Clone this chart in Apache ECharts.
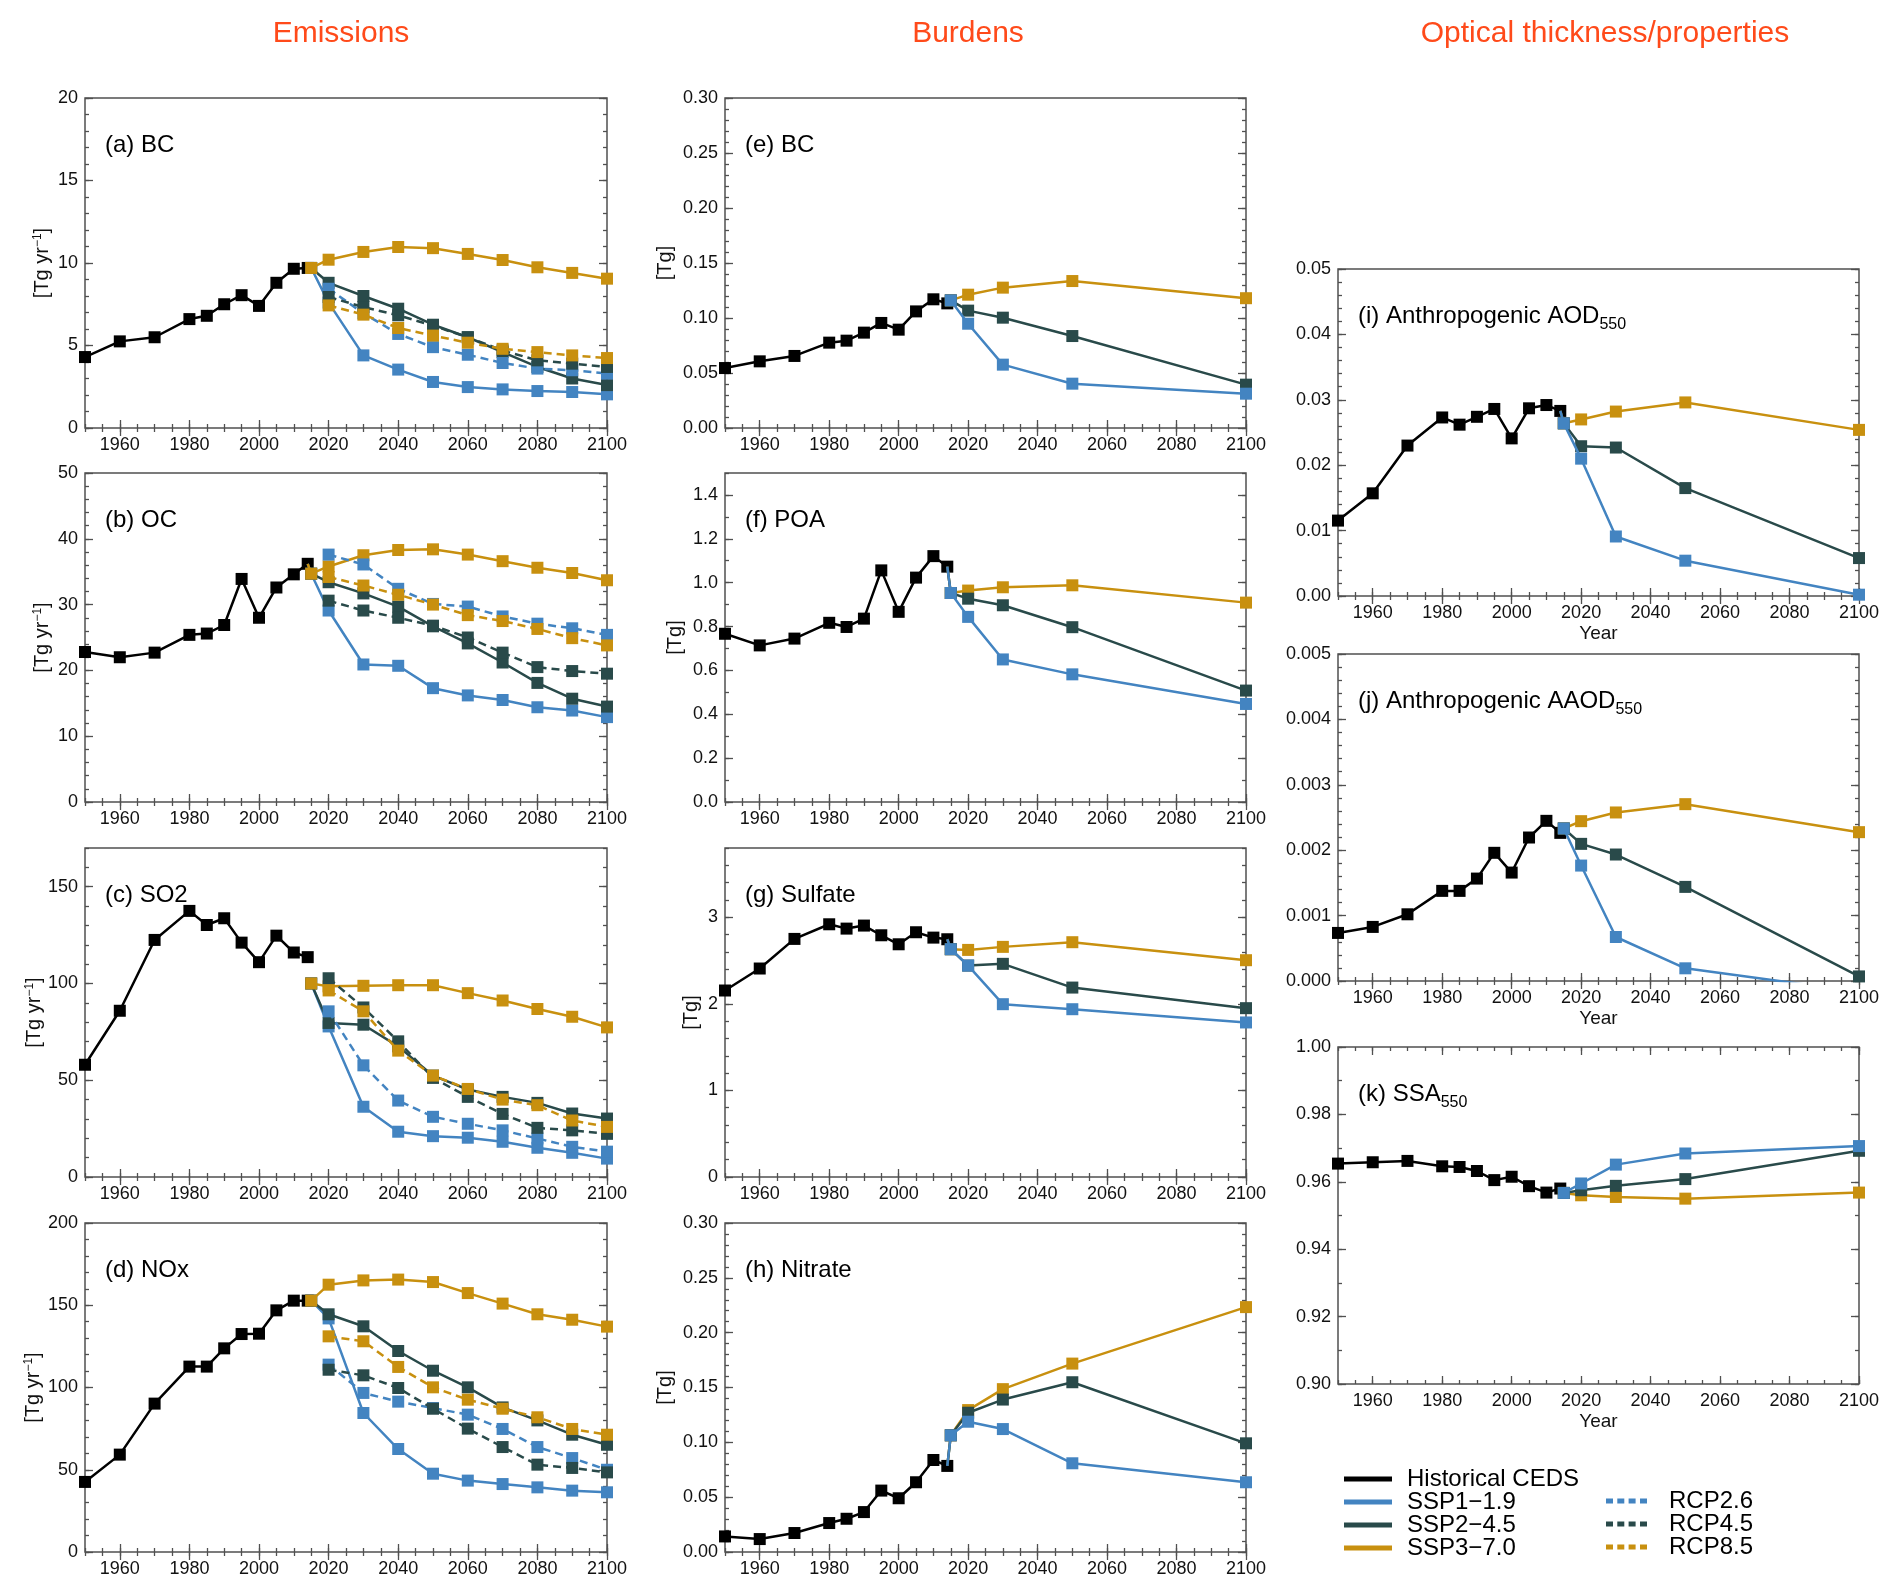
<!DOCTYPE html>
<html><head><meta charset="utf-8">
<script src="https://cdn.jsdelivr.net/npm/echarts@6/dist/echarts.min.js"></script>
<style>html,body{margin:0;padding:0;background:#fff}#c{width:1897px;height:1596px}</style>
</head><body><div id="c"></div>
<script>
// ---------------- data ----------------
const histYears = [1950,1960,1970,1980,1985,1990,1995,2000,2005,2010,2014];
const emisYears = [2015,2020,2030,2040,2050,2060,2070,2080,2090,2100];
const rcpYears  = [2020,2030,2040,2050,2060,2070,2080,2090,2100];
const burdYears = [2015,2020,2030,2050,2100];
const xTickLabels = [1960,1980,2000,2020,2040,2060,2080,2100];

// (a) BC emissions
const bcHist  = [4.3,5.25,5.5,6.6,6.8,7.5,8.05,7.4,8.8,9.65,9.7];
const bcSSP1  = [9.7,7.6,4.4,3.54,2.79,2.48,2.34,2.24,2.18,2.04];
const bcSSP2  = [9.7,8.8,8.0,7.23,6.26,5.5,4.6,3.7,3.0,2.6];
const bcSSP3  = [9.7,10.2,10.67,10.97,10.9,10.55,10.18,9.74,9.4,9.05];
const bcRCP26 = [8.44,6.95,5.7,4.9,4.44,3.94,3.6,3.5,3.3];
const bcRCP45 = [7.94,7.33,6.83,6.2,5.5,4.7,4.1,3.9,3.7];
const bcRCP85 = [7.43,6.87,6.06,5.6,5.17,4.8,4.6,4.4,4.24];
// (b) OC emissions
const ocHist  = [22.8,22.0,22.7,25.4,25.6,26.9,33.9,28.0,32.6,34.6,36.2];
const ocSSP1  = [34.7,29.1,20.9,20.7,17.3,16.2,15.5,14.4,13.9,12.9];
const ocSSP2  = [34.7,33.4,31.7,29.7,26.7,24.1,21.2,18.1,15.7,14.5];
const ocSSP3  = [34.7,35.8,37.5,38.3,38.4,37.6,36.6,35.6,34.8,33.7];
const ocRCP26 = [37.6,36.1,32.4,30.1,29.7,28.2,27.1,26.4,25.4];
const ocRCP45 = [30.6,29.1,28.0,26.8,25.0,22.7,20.5,19.9,19.5];
const ocRCP85 = [34.2,32.9,31.5,30.0,28.4,27.5,26.3,24.9,23.8];
// (c) SO2 emissions
const so2Hist  = [58,85.9,122.5,137.5,130.2,133.7,121.1,111,124.7,116,113.6];
const so2SSP1  = [100,77.8,36.3,23.4,21.1,20.3,18.2,15.1,12.5,9.5];
const so2SSP2  = [100,79.6,78.7,67.5,52.4,45.2,41.4,38.3,32.8,30.2];
const so2SSP3  = [100,98.5,98.8,99.1,99.1,95,91.2,86.8,82.8,77.3];
const so2RCP26 = [85.6,57.7,39.5,31.1,27.5,24.1,19.9,15.6,13.1];
const so2RCP45 = [102.7,87.6,70.1,51.2,41.4,32.6,25.4,24.1,22.3];
const so2RCP85 = [96.4,85.6,65.3,52.4,45.5,40.0,37.1,29.2,25.9];
// (d) NOx emissions
const noxHist  = [42.6,59.2,90.2,112.7,112.7,123.8,132.5,132.7,146.9,152.8,152.8];
const noxSSP1  = [152.8,142.0,84.5,62.6,47.6,43.4,41.3,39.3,37.3,36.3];
const noxSSP2  = [152.8,144.5,137.2,122.2,110.2,100.1,87.9,80.0,71.3,65.2];
const noxSSP3  = [152.8,162.5,165.1,165.6,164.1,157.4,151.0,144.5,141.2,137.0];
const noxRCP26 = [113.9,96.7,91.4,87.5,83.5,74.8,63.8,57.1,50.0];
const noxRCP45 = [110.8,107.4,99.7,87.1,75.0,63.8,53.1,51.1,48.4];
const noxRCP85 = [131.1,128.1,112.5,100.1,92.6,87.1,81.9,74.8,71.3];
// (e) BC burden
const bcbHist = [0.0545,0.0606,0.0655,0.0776,0.0794,0.0867,0.0955,0.0894,0.106,0.117,0.1133];
const bcbSSP1 = [0.116,0.0948,0.0576,0.0403,0.0312];
const bcbSSP2 = [0.116,0.1067,0.1003,0.0836,0.0394];
const bcbSSP3 = [0.116,0.1212,0.1276,0.1336,0.118];
// (f) POA burden
const poaHist = [0.767,0.714,0.745,0.817,0.798,0.836,1.056,0.867,1.023,1.121,1.073];
const poaSSP1 = [0.953,0.844,0.65,0.582,0.447];
const poaSSP2 = [0.953,0.927,0.897,0.797,0.508];
const poaSSP3 = [0.953,0.964,0.979,0.988,0.909];
// (g) Sulfate burden
const sulHist = [2.154,2.408,2.75,2.919,2.869,2.904,2.792,2.688,2.827,2.765,2.746];
const sulSSP1 = [2.631,2.442,1.996,1.938,1.785];
const sulSSP2 = [2.631,2.442,2.462,2.188,1.95];
const sulSSP3 = [2.631,2.623,2.658,2.712,2.504];
// (h) Nitrate burden
const nitHist = [0.0142,0.0118,0.0173,0.0264,0.0303,0.0364,0.056,0.049,0.0636,0.0839,0.0785];
const nitSSP1 = [0.1064,0.1188,0.1121,0.0809,0.0636];
const nitSSP2 = [0.1064,0.127,0.139,0.1548,0.0991];
const nitSSP3 = [0.1064,0.1294,0.1485,0.1718,0.2233];
// (i) Anthropogenic AOD550
const aodHist = [0.01153,0.0157,0.0230,0.0273,0.0262,0.0274,0.0286,0.0241,0.0287,0.0292,0.0283];
const aodSSP1 = [0.0264,0.0210,0.0091,0.0054,0.0002];
const aodSSP2 = [0.0264,0.0229,0.0227,0.0165,0.0058];
const aodSSP3 = [0.0264,0.0270,0.0282,0.0296,0.0254];
// (j) Anthropogenic AAOD550
const aaodHist = [0.000735,0.000827,0.00102,0.001378,0.001378,0.001566,0.00196,0.001658,0.002194,0.002449,0.002265];
const aaodSSP1 = [0.002332,0.001765,0.000673,0.000194,-0.000165];
const aaodSSP2 = [0.002332,0.002097,0.001934,0.001439,0.00007];
const aaodSSP3 = [0.002332,0.002444,0.002577,0.002704,0.002276];
// (k) SSA550
const ssaHist = [0.9654,0.9658,0.9662,0.9646,0.9644,0.9632,0.9605,0.9615,0.9587,0.9568,0.9580];
const ssaSSP1 = [0.9567,0.9595,0.9651,0.9684,0.9706];
const ssaSSP2 = [0.9567,0.9575,0.9588,0.9608,0.9692];
const ssaSSP3 = [0.9567,0.9560,0.9555,0.9550,0.9568];

const columnTitles = ['Emissions','Burdens','Optical thickness/properties'];
const NAMES = {hist:'Historical CEDS', s1:'SSP1\u22121.9', s2:'SSP2\u22124.5', s3:'SSP3\u22127.0', r26:'RCP2.6', r45:'RCP4.5', r85:'RCP8.5'};

// ---------------- layout / style ----------------
const FONT = '"Liberation Sans", Arial, Helvetica, sans-serif';
const COL = {hist:'#000000', s1:'#4384c1', s2:'#294a4a', s3:'#c8900f'};
const EMIS_UNIT = '{a|[Tg yr}{s|\u22121}{a|]}';
const BURD_UNIT = '{a|[Tg]}';

const panels = [
  {label:'{m|(a) BC}', box:[85,98,522,330], y:[0,20,5,1], dec:0, unit:EMIS_UNIT, gap:33, kind:'emis', join:true,
   hist:bcHist, s1:bcSSP1, s2:bcSSP2, s3:bcSSP3, rcp:[bcRCP26,bcRCP45,bcRCP85]},
  {label:'{m|(b) OC}', box:[85,473,522,329], y:[0,50,10,2], dec:0, unit:EMIS_UNIT, gap:33, kind:'emis', join:true,
   hist:ocHist, s1:ocSSP1, s2:ocSSP2, s3:ocSSP3, rcp:[ocRCP26,ocRCP45,ocRCP85]},
  {label:'{m|(c) SO2}', box:[85,848,522,329], y:[0,170,50,10], dec:0, unit:EMIS_UNIT, gap:37, kind:'emis', join:false,
   hist:so2Hist, s1:so2SSP1, s2:so2SSP2, s3:so2SSP3, rcp:[so2RCP26,so2RCP45,so2RCP85]},
  {label:'{m|(d) NOx}', box:[85,1223,522,329], y:[0,200,50,10], dec:0, unit:EMIS_UNIT, gap:42, kind:'emis', join:true,
   hist:noxHist, s1:noxSSP1, s2:noxSSP2, s3:noxSSP3, rcp:[noxRCP26,noxRCP45,noxRCP85]},
  {label:'{m|(e) BC}', box:[725,98,521,330], y:[0,0.30,0.05,0.01], dec:2, unit:BURD_UNIT, gap:50, kind:'burd', join:true,
   hist:bcbHist, s1:bcbSSP1, s2:bcbSSP2, s3:bcbSSP3},
  {label:'{m|(f) POA}', box:[725,473,521,329], y:[0,1.5,0.2,0.1], dec:1, unit:BURD_UNIT, gap:40, kind:'burd', join:true,
   hist:poaHist, s1:poaSSP1, s2:poaSSP2, s3:poaSSP3},
  {label:'{m|(g) Sulfate}', box:[725,848,521,329], y:[0,3.8,1,0.2], dec:0, unit:BURD_UNIT, gap:24, kind:'burd', join:true,
   hist:sulHist, s1:sulSSP1, s2:sulSSP2, s3:sulSSP3},
  {label:'{m|(h) Nitrate}', box:[725,1223,521,329], y:[0,0.30,0.05,0.01], dec:2, unit:BURD_UNIT, gap:50, kind:'burd', join:true,
   hist:nitHist, s1:nitSSP1, s2:nitSSP2, s3:nitSSP3},
  {label:'{m|(i) Anthropogenic AOD}{s|550}', box:[1338,269,521,327], y:[0,0.05,0.01,0.002], dec:2, unit:'', gap:0, kind:'opt', join:true, year:true,
   hist:aodHist, s1:aodSSP1, s2:aodSSP2, s3:aodSSP3},
  {label:'{m|(j) Anthropogenic AAOD}{s|550}', box:[1338,654,521,327], y:[0,0.005,0.001,0.0002], dec:3, unit:'', gap:0, kind:'opt', join:true, year:true,
   hist:aaodHist, s1:aaodSSP1, s2:aaodSSP2, s3:aaodSSP3},
  {label:'{m|(k) SSA}{s|550}', box:[1338,1047,521,337], y:[0.90,1.00,0.02,0.01], dec:2, unit:'', gap:0, kind:'opt', join:true, year:true,
   hist:ssaHist, s1:ssaSSP1, s2:ssaSSP2, s3:ssaSSP3}
];

function steps(min, max, step) {
  const n = Math.floor((max - min) / step + 1e-9);
  const a = [];
  for (let i = 0; i <= n; i++) a.push(+(min + i * step).toFixed(8));
  return a;
}
function pts(xs, ys) { return xs.map((x, k) => [x, ys[k]]); }

const tickLine = {color:'#505050', width:1.3};
const grid = [], xAxis = [], yAxis = [], series = [], title = [];

// column headers
const headerX = [341, 968, 1605];
columnTitles.forEach((t, i) => {
  title.push({text:t, left:headerX[i], top:19, textAlign:'center', padding:0,
    textStyle:{color:'#ff4a1a', fontSize:30, fontWeight:'normal', fontFamily:FONT}});
});

function mkLine(name, data, color, dashed, idx, z) {
  return {type:'line', name, data, xAxisIndex:idx, yAxisIndex:idx, symbol:'rect', symbolSize:12,
    clip:true, animation:false, silent:true, z:z,
    lineStyle:{color, width:2.5, type: dashed ? [8,5] : 'solid'},
    itemStyle:{color}, emphasis:{disabled:true}};
}

panels.forEach((p, i) => {
  const [L, T, W, H] = p.box;
  const gMaj = 2 * i, gMin = 2 * i + 1;
  grid.push({left:L, top:T, width:W, height:H, show:true, borderColor:'#505050', borderWidth:1.5, backgroundColor:'transparent'});
  grid.push({left:L, top:T, width:W, height:H, show:false});
  const [ymn, ymx, ystep, yminor] = p.y;
  const yMaj = steps(ymn, ymx, ystep);
  const base = {type:'value', axisLine:{show:false}, splitLine:{show:false}};
  // x axes
  xAxis.push(Object.assign({}, base, {gridIndex:gMaj, min:1950, max:2100, position:'bottom',
    axisTick:{show:true, inside:true, length:8, customValues:xTickLabels, lineStyle:tickLine},
    axisLabel:{show:true, customValues:xTickLabels, fontSize:18, color:'#111', margin:8, fontFamily:FONT, formatter:v => String(v)},
    name: p.year ? 'Year' : '', nameLocation:'middle', nameGap:28,
    nameTextStyle:{fontSize:19, color:'#111', fontFamily:FONT}}));
  xAxis.push(Object.assign({}, base, {gridIndex:gMaj, min:1950, max:2100, position:'top',
    axisTick:{show:true, inside:true, length:8, customValues:xTickLabels, lineStyle:tickLine}, axisLabel:{show:false}}));
  xAxis.push(Object.assign({}, base, {gridIndex:gMin, min:1950, max:2100, interval:5, position:'bottom',
    axisTick:{show:true, inside:true, length:4, lineStyle:tickLine}, axisLabel:{show:false}}));
  xAxis.push(Object.assign({}, base, {gridIndex:gMin, min:1950, max:2100, interval:5, position:'top',
    axisTick:{show:true, inside:true, length:4, lineStyle:tickLine}, axisLabel:{show:false}}));
  // y axes
  yAxis.push(Object.assign({}, base, {gridIndex:gMaj, min:ymn, max:ymx, position:'left',
    axisTick:{show:true, inside:true, length:8, customValues:yMaj, lineStyle:tickLine},
    axisLabel:{show:true, customValues:yMaj, fontSize:18, color:'#111', margin:7, fontFamily:FONT, formatter:v => Number(v).toFixed(p.dec)},
    name:p.unit, nameLocation:'middle', nameRotate:90, nameGap:p.gap,
    nameTextStyle:{fontSize:20, color:'#111', fontFamily:FONT,
      rich:{a:{fontSize:20, color:'#111', fontFamily:FONT}, s:{fontSize:12, color:'#111', fontFamily:FONT, verticalAlign:'top'}}}}));
  yAxis.push(Object.assign({}, base, {gridIndex:gMaj, min:ymn, max:ymx, position:'right',
    axisTick:{show:true, inside:true, length:8, customValues:yMaj, lineStyle:tickLine}, axisLabel:{show:false}}));
  yAxis.push(Object.assign({}, base, {gridIndex:gMin, min:ymn, max:ymx, interval:yminor, position:'left',
    axisTick:{show:true, inside:true, length:4, lineStyle:tickLine}, axisLabel:{show:false}}));
  yAxis.push(Object.assign({}, base, {gridIndex:gMin, min:ymn, max:ymx, interval:yminor, position:'right',
    axisTick:{show:true, inside:true, length:4, lineStyle:tickLine}, axisLabel:{show:false}}));

  // panel label
  title.push({text:p.label, left:L + 20, top:T + 35, padding:0,
    textStyle:{fontWeight:'normal', fontFamily:FONT, rich:{
      m:{fontSize:24, lineHeight:28, color:'#000', fontFamily:FONT, verticalAlign:'top'},
      s:{fontSize:16, lineHeight:16, color:'#000', fontFamily:FONT, verticalAlign:'top', padding:[13,0,0,0]}}}});

  const idx = 4 * i;
  const lastYear = histYears[histYears.length - 1];
  const lastVal = p.hist[p.hist.length - 1];
  const scenYears = p.kind === 'emis' ? emisYears : burdYears;
  const scen = ys => {
    const d = pts(scenYears, ys);
    if (p.join) d.unshift({value:[lastYear, lastVal], symbol:'none'});
    return d;
  };
  series.push(mkLine(NAMES.hist, pts(histYears, p.hist), COL.hist, false, idx, 3));
  if (p.kind === 'emis') {
    series.push(mkLine(NAMES.s1, scen(p.s1), COL.s1, false, idx, 4));
    series.push(mkLine(NAMES.s2, scen(p.s2), COL.s2, false, idx, 5));
    series.push(mkLine(NAMES.s3, scen(p.s3), COL.s3, false, idx, 6));
    series.push(mkLine(NAMES.r26, pts(rcpYears, p.rcp[0]), COL.s1, true, idx, 7));
    series.push(mkLine(NAMES.r45, pts(rcpYears, p.rcp[1]), COL.s2, true, idx, 8));
    series.push(mkLine(NAMES.r85, pts(rcpYears, p.rcp[2]), COL.s3, true, idx, 9));
  } else {
    series.push(mkLine(NAMES.s3, scen(p.s3), COL.s3, false, idx, 4));
    series.push(mkLine(NAMES.s2, scen(p.s2), COL.s2, false, idx, 5));
    series.push(mkLine(NAMES.s1, scen(p.s1), COL.s1, false, idx, 6));
  }
});

const solidIcon = 'path://M0,0h48v5h-48z';
const dashIcon = 'path://M0,0h7v5h-7z M11.3,0h7v5h-7z M22.6,0h7v5h-7z M34,0h7v5h-7z';
const legend = [
  {orient:'vertical', left:1344, top:1467, itemWidth:48, itemHeight:20, itemGap:-1, selectedMode:false, padding:0,
   textStyle:{fontSize:24, lineHeight:20, color:'#000', fontFamily:FONT, padding:[0,0,0,10]},
   data:[NAMES.hist, NAMES.s1, NAMES.s2, NAMES.s3].map(n => ({name:n, icon:solidIcon}))},
  {orient:'vertical', left:1606, top:1489, itemWidth:41, itemHeight:20, itemGap:-1, selectedMode:false, padding:0,
   textStyle:{fontSize:24, lineHeight:20, color:'#000', fontFamily:FONT, padding:[0,0,0,17]},
   data:[NAMES.r26, NAMES.r45, NAMES.r85].map(n => ({name:n, icon:dashIcon}))}
];

const chart = echarts.init(document.getElementById('c'), null, {renderer:'canvas', width:1897, height:1596});
chart.setOption({backgroundColor:'#ffffff', animation:false, title, grid, xAxis, yAxis, series, legend});
</script></body></html>
